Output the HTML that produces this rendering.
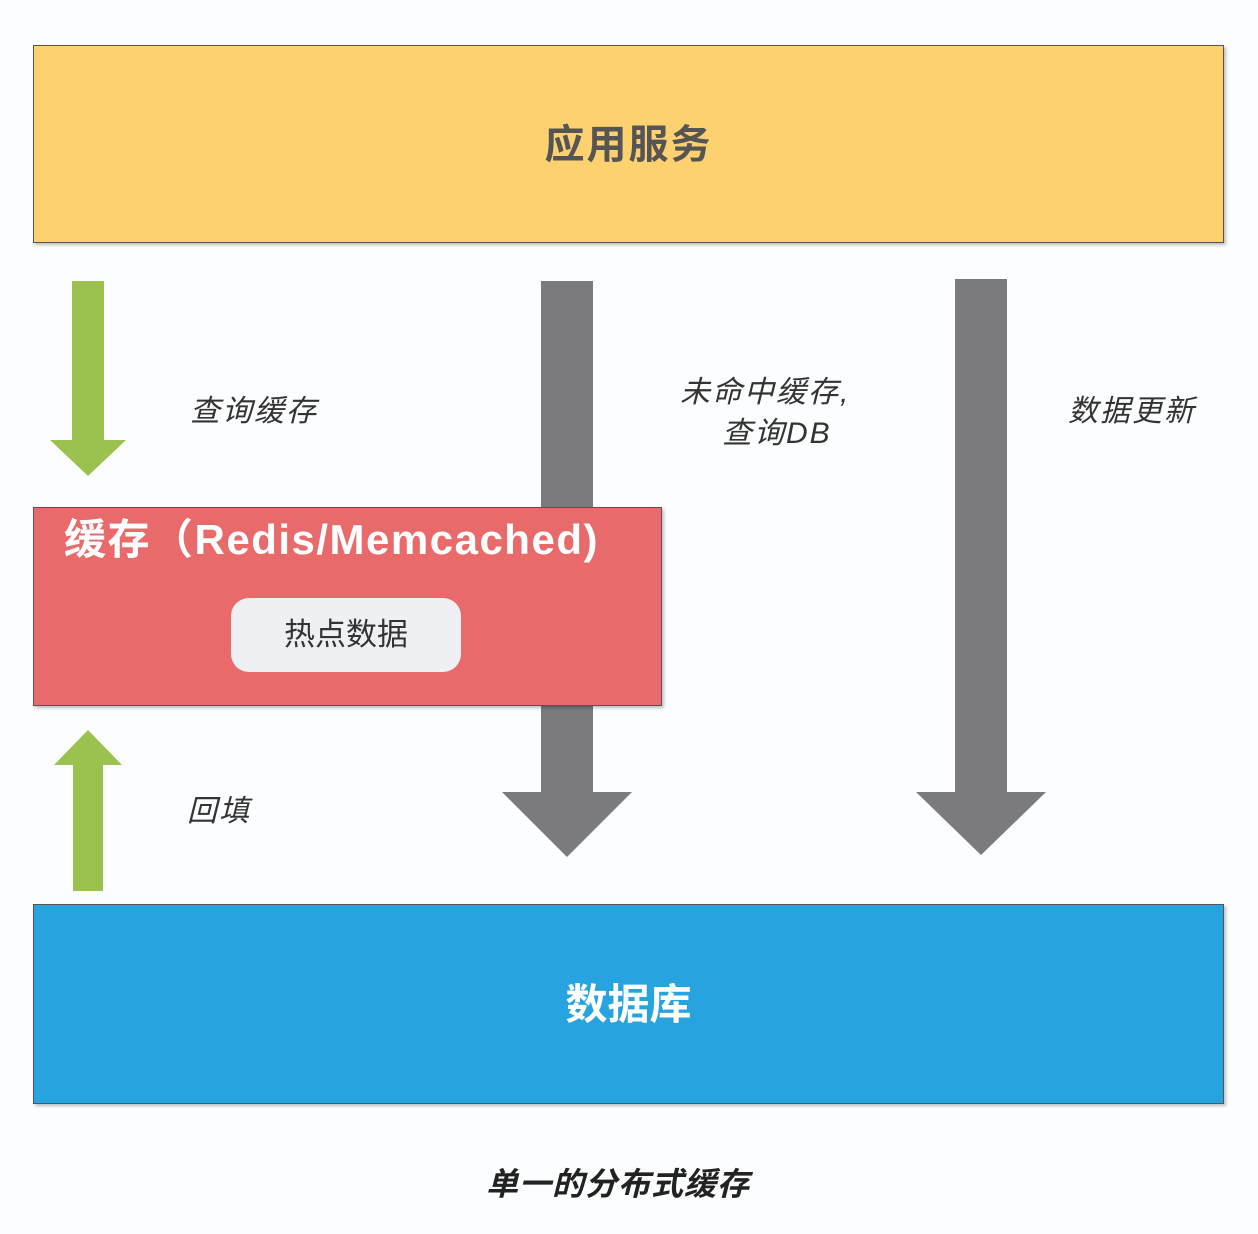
<!DOCTYPE html>
<html><head><meta charset="utf-8"><style>
body{margin:0;width:1258px;height:1234px;background:#fcfdfe;position:relative;overflow:hidden;font-family:"Liberation Sans","Noto Sans CJK SC",sans-serif}
.a{position:absolute}
.box{position:absolute;box-sizing:border-box;border:1.5px solid #555;box-shadow:2px 2px 3px rgba(0,0,0,.25)}
.lbl{position:absolute;font-style:italic;font-size:30px;letter-spacing:2px;color:#333;white-space:nowrap;line-height:1}
</style></head><body>
<div class="box" style="left:33px;top:45px;width:1191px;height:198px;background:#fdd170;"></div>
<div class="a" style="left:33px;top:120px;width:1191px;text-align:center;font-size:40px;letter-spacing:2px;font-weight:bold;color:#555;line-height:50px">应用服务</div>

<svg class="a" style="left:0;top:0" width="1258" height="1234">
<polygon points="541,281 593,281 593,792 632,792 567,857 502,792 541,792" fill="#7b7b7d"/>
<polygon points="955,279 1007,279 1007,792 1046,792 981,855 916,792 955,792" fill="#7b7b7d"/>
<polygon points="72,281 104,281 104,440 126,440 88,476 50,440 72,440" fill="#9bc14f"/>
<polygon points="88,730 122,765 103,765 103,891 73,891 73,765 54,765" fill="#9bc14f"/>
</svg>

<div class="box" style="left:33px;top:507px;width:629px;height:199px;background:#e96a6b;"></div>
<div class="a" style="left:64px;top:515px;font-size:42px;letter-spacing:1.5px;font-weight:bold;color:#fff;line-height:50px;white-space:nowrap">缓存（Redis/Memcached)</div>
<div class="a" style="left:231px;top:598px;width:230px;height:74px;border-radius:18px;background:#eef0f3;text-align:center;line-height:74px;font-size:31px;color:#333">热点数据</div>

<div class="box" style="left:33px;top:904px;width:1191px;height:200px;background:#27a3e0;"></div>
<div class="a" style="left:33px;top:980px;width:1191px;text-align:center;font-size:42px;font-weight:bold;color:#fff;line-height:50px">数据库</div>

<div class="lbl" style="left:190px;top:397px">查询缓存</div>
<div class="lbl" style="left:680px;top:378px">未命中缓存,</div>
<div class="lbl" style="left:722px;top:419px">查询DB</div>
<div class="lbl" style="left:1068px;top:397px">数据更新</div>
<div class="lbl" style="left:187px;top:797px">回填</div>
<div class="a" style="left:0;top:1166px;width:1236px;text-align:center;font-size:32px;letter-spacing:1px;font-weight:bold;font-style:italic;color:#222;line-height:36px">单一的分布式缓存</div>
</body></html>
